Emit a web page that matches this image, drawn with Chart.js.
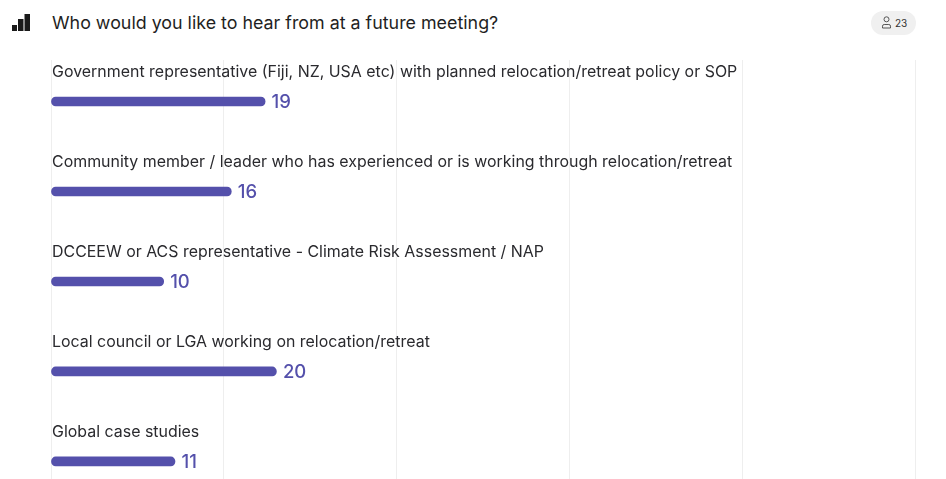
<!DOCTYPE html>
<html>
<head>
<meta charset="utf-8">
<script src="https://cdn.jsdelivr.net/npm/chart.js@4"></script>
<style>
  html, body { margin: 0; width: 946px; height: 479px; overflow: hidden; background: #fff; font-family: Inter, sans-serif; }
  #chart { position: absolute; left: 0; top: 0; }
  #head { position: absolute; left: 0; top: 0; width: 946px; height: 60px; background: #fff; }
  #head svg.icon { position: absolute; left: 12px; top: 14px; }
  #title { position: absolute; left: 52px; top: 11px; font-size: 17.85px; line-height: 24px; color: #1f1f23; white-space: nowrap; }
  #pill { position: absolute; left: 871px; top: 11px; width: 45px; height: 24px; border-radius: 12px; background: #f0f0f0; }
  #pill svg { position: absolute; left: 10px; top: 5px; }
  #pill span { position: absolute; left: 24px; top: 5px; font-size: 10px; line-height: 14px; color: #333; }
</style>
</head>
<body>
<canvas id="chart" width="946" height="517"></canvas>
<div id="head">
  <svg class="icon" width="18" height="18" viewBox="0 0 18 18"><path fill="#1a1a1a" d="M0 11h5v6H0zM6 5h5.500v12H6zM12.500 0H18v17h-5.500z"/></svg>
  <div id="title">Who would you like to hear from at a future meeting?</div>
  <div id="pill">
    <svg width="11" height="13" viewBox="0 0 11 13" fill="none" stroke="#555" stroke-width="1"><circle cx="5.5" cy="3.300" r="2.500"/><path d="M1.500 12V10.200q0-1.700 1.700-1.700h4.600q1.700 0 1.700 1.700V12z"/></svg>
    <span>23</span>
  </div>
</div>
<script>
const categories = [
  'Government representative (Fiji, NZ, USA etc) with planned relocation/retreat policy or SOP',
  'Community member / leader who has experienced or is working through relocation/retreat',
  'DCCEEW or ACS representative - Climate Risk Assessment / NAP',
  'Local council or LGA working on relocation/retreat',
  'Global case studies'
];
const votes = [19, 16, 10, 20, 11];
const respondents = 23;
// axis runs past the respondent count, 5 equal grid cells
const axisMax = respondents / 0.3;
const gridValues = [0, 1, 2, 3, 4, 5].map(i => axisMax * i / 5);

const barColor = '#5450ab';

// value next to each bar end
const valueLabels = {
  id: 'valueLabels',
  afterDatasetsDraw(chart) {
    const ctx = chart.ctx;
    ctx.save();
    ctx.fillStyle = barColor;
    ctx.font = '500 18.5px Inter, sans-serif';
    ctx.textBaseline = 'middle';
    chart.getDatasetMeta(0).data.forEach((bar, i) => {
      ctx.fillText(votes[i], bar.x + 6.5, bar.y + 1);
    });
    ctx.restore();
  }
};

new Chart(document.getElementById('chart'), {
  type: 'bar',
  data: {
    labels: categories,
    datasets: [{
      data: votes,
      backgroundColor: barColor,
      barThickness: 9,
      borderRadius: 5,
      borderSkipped: false
    }]
  },
  options: {
    indexAxis: 'y',
    responsive: false,
    animation: false,
    layout: { padding: { left: 49, right: 31, top: 56.5, bottom: 0 } },
    plugins: { legend: { display: false }, tooltip: { enabled: false } },
    scales: {
      x: {
        min: 0,
        max: axisMax,
        afterBuildTicks: axis => { axis.ticks = gridValues.map(v => ({ value: v })); },
        ticks: { display: false },
        border: { display: false },
        grid: { color: '#eeeeee', drawTicks: false }
      },
      y: {
        border: { display: false },
        grid: { display: false, drawTicks: false },
        ticks: {
          mirror: true,
          autoSkip: false,
          padding: 1,
          labelOffset: -29,
          color: '#2a2a2e',
          font: { family: 'Inter, sans-serif', size: 15.95 }
        }
      }
    }
  },
  plugins: [valueLabels]
});
</script>
</body>
</html>
